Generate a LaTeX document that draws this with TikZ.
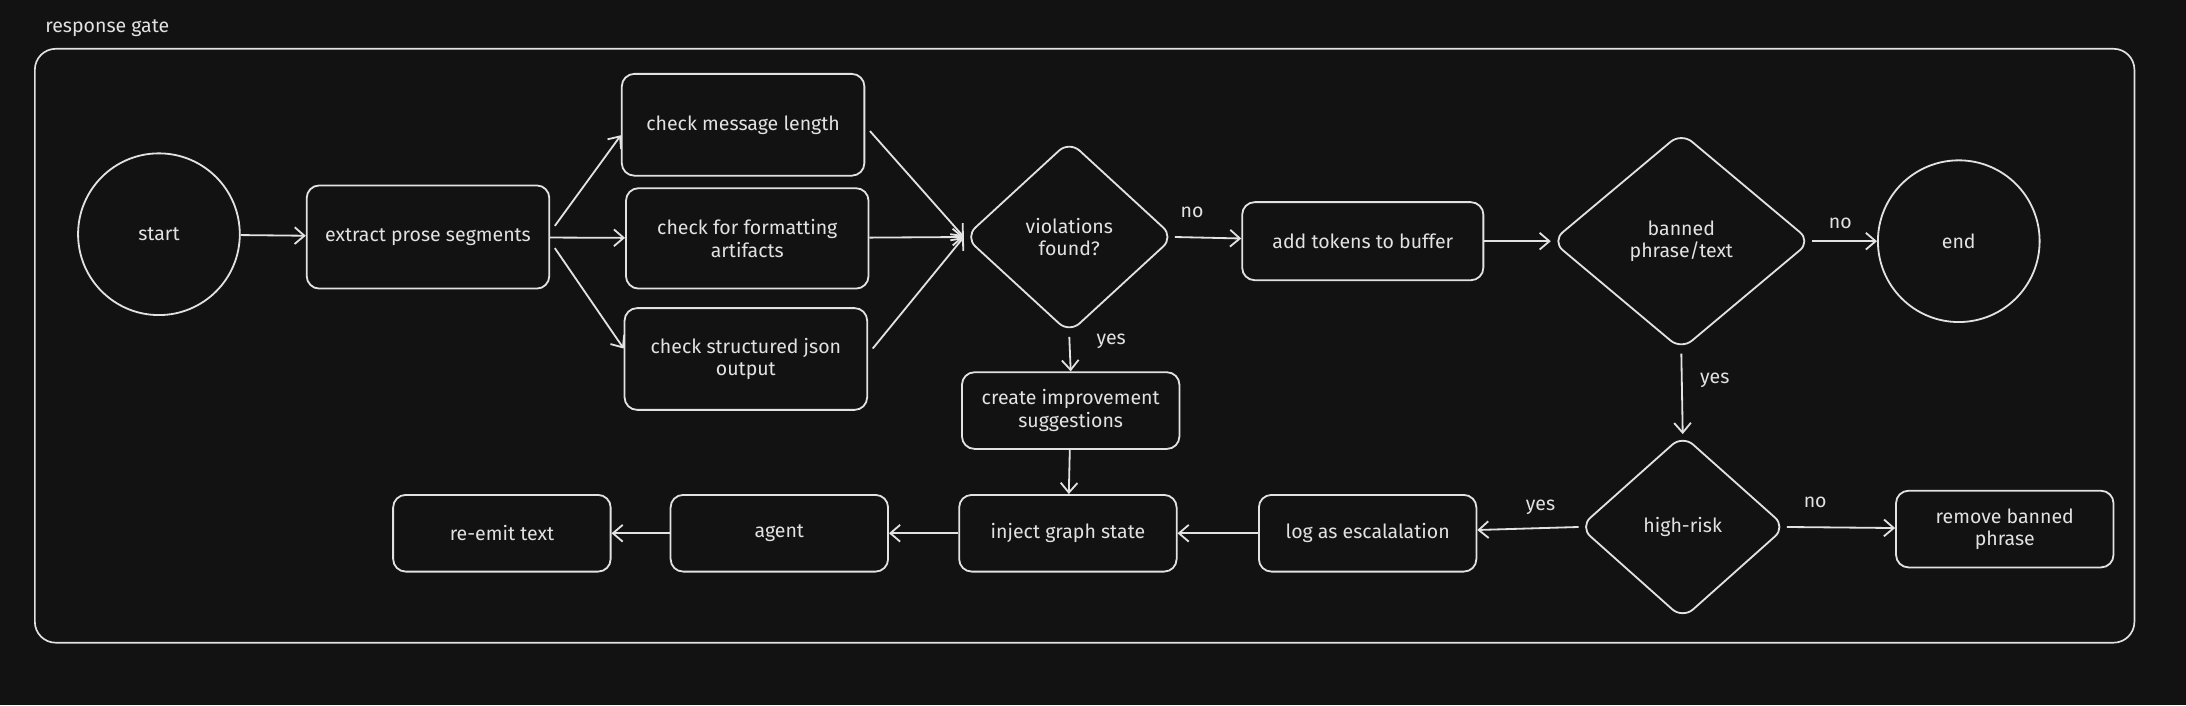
\documentclass[tikz,border=0pt]{standalone}
\usepackage{fontspec}
\setmainfont{Fira Sans}
\usetikzlibrary{arrows.meta,shapes.geometric}
\definecolor{bg}{HTML}{121212}
\definecolor{fg}{HTML}{E2E2E2}
\begin{document}
\begin{tikzpicture}[x=1pt,y=-1pt,
  every node/.style={text=fg,font=\fontsize{14}{16}\selectfont,align=center},
  box/.style={draw=fg,line width=1.3pt,rounded corners=9pt,inner sep=0pt},
  circ/.style={draw=fg,line width=1.3pt,circle,minimum size=116pt,inner sep=0pt},
  dia/.style={draw=fg,line width=1.3pt,diamond,rounded corners=10pt,inner sep=0pt},
  arr/.style={draw=fg,line width=1.3pt,-{Straight Barb[length=7pt,width=12pt]}},
  lbl/.style={font=\fontsize{14}{16}\selectfont}]
\fill[bg] (0,0) rectangle (1568,506);
\useasboundingbox (0,0) rectangle (1568,506);
\node[anchor=west,lbl] (title) at (29,20) {response gate};
\draw[fg,line width=1.2pt,rounded corners=15pt] (25,35) rectangle (1531,461);
\newcommand{\bx}[6]{\node[box,minimum width=#4pt,minimum height=#5pt] (#1) at (#2,#3) {#6};}
\node[circ] (start) at (114,168) {start};
\bx{extract}{307}{170}{174}{74}{extract prose segments}
\bx{len}{533}{89.5}{174}{73}{check message length}
\bx{fmt}{536}{171}{174}{72}{check for formatting\\artifacts}
\bx{json}{535}{257.5}{174}{73}{check structured json\\output}
\node[dia,minimum width=150pt,minimum height=138pt] (viol) at (767,170) {violations\\found?};
\bx{add}{977.5}{173}{173}{56}{add tokens to buffer}
\node[dia,minimum width=186pt,minimum height=156pt] (ban) at (1206,173) {banned\\phrase/text};
\node[circ] (end) at (1405,173) {end};
\bx{create}{768}{294.5}{156}{55}{create improvement\\suggestions}
\node[dia,minimum width=148pt,minimum height=132pt] (risk) at (1207,378) {high-risk};
\bx{remove}{1438}{379.5}{156}{55}{remove banned\\phrase}
\bx{log}{981}{382.5}{156}{55}{log as escalalation}
\bx{inject}{766}{382.5}{156}{55}{inject graph state}
\bx{agent}{559}{382.5}{156}{55}{agent}
\bx{reemit}{360}{382.5}{156}{55}{re-emit text}
\coordinate (e1) at (398,162);
\coordinate (e2) at (398,178);
\coordinate (l1) at (624,94);
\coordinate (j1) at (626,250);
\draw[arr] (start) -- (extract);
\draw[arr] (e1) -- (len.west |- 0,97);
\draw[arr] (extract) -- (fmt);
\draw[arr] (e2) -- (json.west |- 0,250);
\draw[arr] (l1) -- (viol.west);
\draw[arr] (fmt) -- (viol.west);
\draw[arr] (j1) -- (viol.west);
\draw[arr] (viol.east) -- (add);
\node[lbl] (nol1) at (855,152) {no};
\draw[arr] (viol.south) ++(0,2) -- (create.north);
\node[lbl] (yesl1) at (797,245) {yes};
\draw[arr] (add) -- (ban);
\draw[arr] (ban.east) -- (end);
\node[lbl] (nol2) at (1320,160) {no};
\draw[arr] (ban.south) ++(0,2) -- (risk.north);
\node[lbl] (yesl2) at (1230,273) {yes};
\draw[arr] (risk.east) -- (remove);
\node[lbl] (nol3) at (1302,360) {no};
\draw[arr] (risk.west) -- (log);
\node[lbl] (yesl3) at (1105,364) {yes};
\draw[arr] (create) -- (inject);
\draw[arr] (log) -- (inject);
\draw[arr] (inject) -- (agent);
\draw[arr] (agent) -- (reemit);
\end{tikzpicture}
\end{document}
